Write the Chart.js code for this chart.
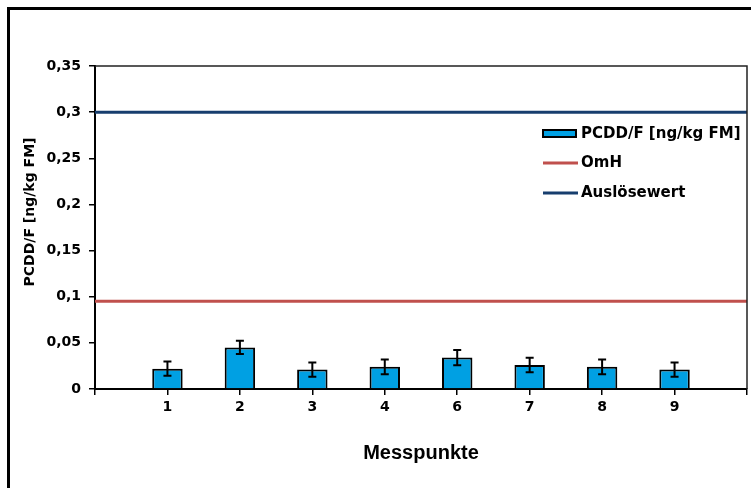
<!DOCTYPE html>
<html lang="de">
<head>
<meta charset="UTF-8">
<title>PCDD/F Messpunkte</title>
<script src="https://cdn.jsdelivr.net/npm/chart.js@4.4.0/dist/chart.umd.min.js"></script>
<style>
    html, body { margin: 0; padding: 0; background: #fff; }
    body { width: 751px; height: 488px; position: relative; overflow: hidden; }
    .rahmen { position: absolute; left: 7px; top: 7px; width: 900px; height: 700px; border: 3px solid #000; }
    .chart-box { position: absolute; left: 0; top: 0; width: 751px; height: 488px; }
</style>
</head>
<body>
<div class="rahmen"></div>
<div class="chart-box"><canvas id="pcddChart"></canvas></div>
<script>
    // Messpunkte (leere Kategorien links und rechts als Rand)
    const messpunkte = ['', '1', '2', '3', '4', '6', '7', '8', '9', ''];
    const pcddWerte  = [null, 0.022, 0.045, 0.021, 0.024, 0.034, 0.026, 0.024, 0.021, null];
    const pcddFehler = [null, 0.0077, 0.0072, 0.0076, 0.0079, 0.0083, 0.0078, 0.0079, 0.0076, null];
    const omhWert = 0.095;
    const ausloesewert = 0.3;
    const yTicks = [0, 0.05, 0.1, 0.15, 0.2, 0.25, 0.3, 0.35];
    const yTickLabels = ['0', '0,05', '0,1', '0,15', '0,2', '0,25', '0,3', '0,35'];

    const tickFont = { family: 'DejaVu Sans', weight: 'bold', size: 14 };

    // Fehlerbalken, Rahmen, Legende, Y-Titel
    const extras = {
        id: 'extras',
        afterDatasetsDraw(chart) {
            const ctx = chart.ctx;
            const y = chart.scales.y;
            const meta = chart.getDatasetMeta(0);
            ctx.save();
            ctx.strokeStyle = '#000';
            ctx.lineWidth = 2;
            meta.data.forEach((bar, i) => {
                if (pcddWerte[i] == null) return;
                const oben = y.getPixelForValue(pcddWerte[i] + pcddFehler[i]);
                const unten = y.getPixelForValue(pcddWerte[i] - pcddFehler[i]);
                ctx.beginPath();
                ctx.moveTo(bar.x, oben); ctx.lineTo(bar.x, unten);
                ctx.moveTo(bar.x - 4, oben); ctx.lineTo(bar.x + 4, oben);
                ctx.moveTo(bar.x - 4, unten); ctx.lineTo(bar.x + 4, unten);
                ctx.stroke();
            });
            ctx.restore();
        },
        afterDraw(chart) {
            const ctx = chart.ctx;
            const a = chart.chartArea;
            ctx.save();
            // obere und rechte Begrenzung der Zeichenfläche
            ctx.strokeStyle = '#222';
            ctx.lineWidth = 1.5;
            ctx.beginPath();
            ctx.moveTo(a.left, a.top); ctx.lineTo(a.right, a.top); ctx.lineTo(a.right, a.bottom);
            ctx.stroke();

            // Legende
            const ds = chart.data.datasets;
            ctx.font = 'bold 15px "DejaVu Sans"';
            ctx.textBaseline = 'middle';
            ctx.fillStyle = '#000';
            const lx = 543, tx = 581;
            const zeilen = [134, 163, 193];
            ds.forEach((d, i) => {
                const yy = zeilen[i];
                if (d.type === 'line') {
                    ctx.strokeStyle = d.borderColor;
                    ctx.lineWidth = 3;
                    ctx.beginPath(); ctx.moveTo(lx, yy); ctx.lineTo(lx + 35, yy); ctx.stroke();
                } else {
                    ctx.fillStyle = d.backgroundColor;
                    ctx.fillRect(lx, yy - 4, 33, 7);
                    ctx.strokeStyle = '#000';
                    ctx.lineWidth = 2;
                    ctx.strokeRect(lx, yy - 4, 33, 7);
                }
                ctx.fillStyle = '#000';
                ctx.fillText(d.label, tx, yy);
            });

            // Y-Achsentitel
            ctx.translate(30, 212);
            ctx.rotate(-Math.PI / 2);
            ctx.textAlign = 'center';
            ctx.font = 'bold 14px "DejaVu Sans"';
            ctx.fillText('PCDD/F [ng/kg FM]', 0, 0);
            ctx.restore();
        }
    };

    new Chart(document.getElementById('pcddChart'), {
        data: {
            labels: messpunkte,
            datasets: [
                {
                    type: 'bar',
                    label: 'PCDD/F [ng/kg FM]',
                    data: pcddWerte,
                    backgroundColor: '#00A0E3',
                    borderColor: '#000',
                    borderWidth: 2,
                    barPercentage: 0.42,
                    categoryPercentage: 1,
                    order: 1
                },
                {
                    type: 'line',
                    label: 'OmH',
                    data: messpunkte.map(() => omhWert),
                    borderColor: '#C0504D',
                    borderWidth: 3,
                    pointRadius: 0,
                    order: 2
                },
                {
                    type: 'line',
                    label: 'Auslösewert',
                    data: messpunkte.map(() => ausloesewert),
                    borderColor: '#173E6E',
                    borderWidth: 3,
                    pointRadius: 0,
                    order: 3
                }
            ]
        },
        options: {
            responsive: true,
            maintainAspectRatio: false,
            animation: false,
            layout: { padding: { top: 66, right: 3, left: 0, bottom: 0 } },
            plugins: {
                legend: { display: false },
                tooltip: { enabled: false }
            },
            scales: {
                x: {
                    offset: false,
                    grid: { offset: false, drawOnChartArea: false, tickLength: 6, color: '#000', lineWidth: 1.5 },
                    border: { color: '#000', width: 2 },
                    ticks: { color: '#000', font: tickFont, padding: 4, maxRotation: 0, autoSkip: false },
                    title: {
                        display: true,
                        text: 'Messpunkte',
                        color: '#000',
                        font: { family: 'Liberation Sans', weight: 'bold', size: 20 },
                        padding: { top: 0, bottom: 23 }
                    },
                    afterFit: s => { s.height = 99; }
                },
                y: {
                    min: 0,
                    max: 0.35,
                    grid: { drawOnChartArea: false, tickLength: 6, color: '#000', lineWidth: 1.5 },
                    border: { color: '#000', width: 2 },
                    afterBuildTicks: s => { s.ticks = yTicks.map(v => ({ value: v })); },
                    ticks: {
                        color: '#000',
                        font: tickFont,
                        padding: 8,
                        callback: (v, i) => yTickLabels[i]
                    },
                    afterFit: s => { s.width = 95; }
                }
            }
        },
        plugins: [extras]
    });
</script>
</body>
</html>
